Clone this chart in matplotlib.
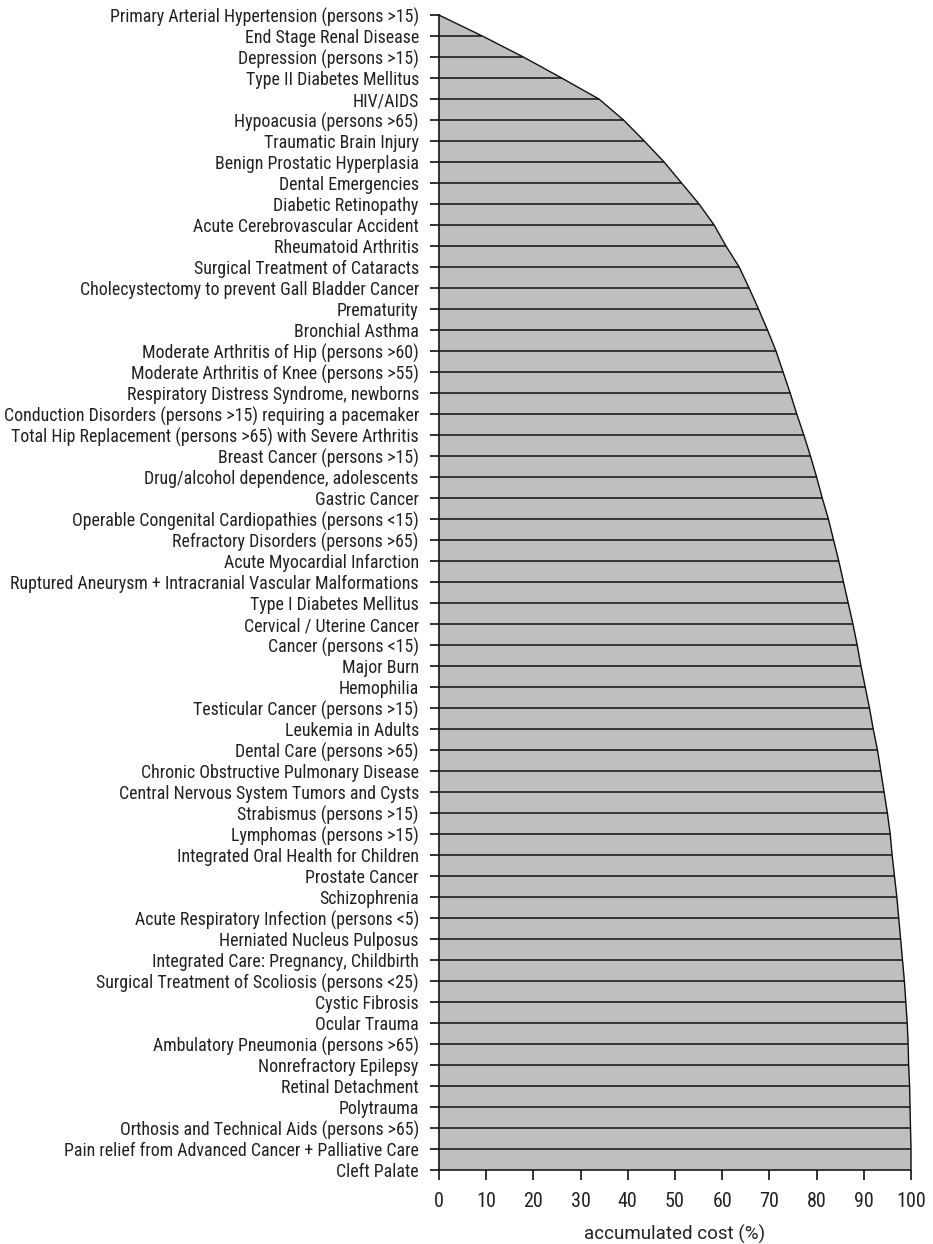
import numpy as np
import matplotlib
matplotlib.use('Agg')
import matplotlib.pyplot as plt
from matplotlib import font_manager

# conditions, ordered as in the chart (top to bottom)
conditions = [
    'Primary Arterial Hypertension (persons >15)',
    'End Stage Renal Disease',
    'Depression (persons >15)',
    'Type II Diabetes Mellitus',
    'HIV/AIDS',
    'Hypoacusia (persons >65)',
    'Traumatic Brain Injury',
    'Benign Prostatic Hyperplasia',
    'Dental Emergencies',
    'Diabetic Retinopathy',
    'Acute Cerebrovascular Accident',
    'Rheumatoid Arthritis',
    'Surgical Treatment of Cataracts',
    'Cholecystectomy to prevent Gall Bladder Cancer',
    'Prematurity',
    'Bronchial Asthma',
    'Moderate Arthritis of Hip (persons >60)',
    'Moderate Arthritis of Knee (persons >55)',
    'Respiratory Distress Syndrome, newborns',
    'Conduction Disorders (persons >15) requiring a pacemaker',
    'Total Hip Replacement (persons >65) with Severe Arthritis',
    'Breast Cancer (persons >15)',
    'Drug/alcohol dependence, adolescents',
    'Gastric Cancer',
    'Operable Congenital Cardiopathies (persons <15)',
    'Refractory Disorders (persons >65)',
    'Acute Myocardial Infarction',
    'Ruptured Aneurysm + Intracranial Vascular Malformations',
    'Type I Diabetes Mellitus',
    'Cervical / Uterine Cancer',
    'Cancer (persons <15)',
    'Major Burn',
    'Hemophilia',
    'Testicular Cancer (persons >15)',
    'Leukemia in Adults',
    'Dental Care (persons >65)',
    'Chronic Obstructive Pulmonary Disease',
    'Central Nervous System Tumors and Cysts',
    'Strabismus (persons >15)',
    'Lymphomas (persons >15)',
    'Integrated Oral Health for Children',
    'Prostate Cancer',
    'Schizophrenia',
    'Acute Respiratory Infection (persons <5)',
    'Herniated Nucleus Pulposus',
    'Integrated Care: Pregnancy, Childbirth',
    'Surgical Treatment of Scoliosis (persons <25)',
    'Cystic Fibrosis',
    'Ocular Trauma',
    'Ambulatory Pneumonia (persons >65)',
    'Nonrefractory Epilepsy',
    'Retinal Detachment',
    'Polytrauma',
    'Orthosis and Technical Aids (persons >65)',
    'Pain relief from Advanced Cancer + Palliative Care',
    'Cleft Palate',
]

# accumulated cost (%)
accumulated = [
    0.0, 9.2, 17.9, 26.0, 33.9, 39.1, 43.5, 47.7, 51.4, 55.1,
    58.3, 60.8, 63.6, 65.7, 67.7, 69.6, 71.4, 72.9, 74.4, 75.8,
    77.3, 78.7, 80.0, 81.2, 82.5, 83.6, 84.7, 85.7, 86.7, 87.7,
    88.6, 89.4, 90.3, 91.2, 92.0, 92.9, 93.6, 94.3, 95.0, 95.6,
    96.0, 96.5, 97.0, 97.4, 97.8, 98.2, 98.6, 98.9, 99.2, 99.4,
    99.5, 99.7, 99.8, 99.9, 100.0, 100.0,
]

x_ticks = [0, 10, 20, 30, 40, 50, 60, 70, 80, 90, 100]

#pick the narrowest font that is installed
installed = {f.name for f in font_manager.fontManager.ttflist}
label_font = 'Liberation Sans'
for name in ['Liberation Sans Narrow', 'Roboto Condensed', 'DejaVu Sans Condensed',
             'Roboto', 'Liberation Sans']:
    if name in installed:
        label_font = name
        break
xlabel_font = 'Roboto' if 'Roboto' in installed else 'Liberation Sans'

fig = plt.figure(figsize=(9.33, 12.44), dpi=100)
ax = fig.add_axes([0.4705, 0.0595, 0.5059, 0.9284])

y = np.arange(len(conditions))
vals = np.array(accumulated)

#filled area, row lines and the outer curve
ax.fill_betweenx(y, 0, vals, color='#bebfc1', lw=0)
ax.hlines(y, 0, vals, colors='#111111', lw=1.1, clip_on=False)
ax.plot(vals, y, color='#111111', lw=1.0, clip_on=False)

ax.set_xlim(0, 100)
ax.set_ylim(len(conditions) - 1, 0)

ax.set_yticks(y)
ylabels = ax.set_yticklabels(conditions, family=label_font, fontsize=13, color='#222222')
ax.set_xticks(x_ticks)
xlabels = ax.set_xticklabels([str(t) for t in x_ticks], family=label_font,
                             fontsize=14.5, color='#222222')

ax.tick_params(axis='y', length=6.5, width=1.2, pad=8, color='#111111')
ax.tick_params(axis='x', length=7.5, width=1.2, pad=8, color='#111111')

for side in ['top', 'right', 'bottom']:
    ax.spines[side].set_visible(False)
ax.spines['left'].set_linewidth(1.2)
ax.spines['left'].set_color('#111111')

#shrink the labels if the font is too wide for the left margin
fig.canvas.draw()
renderer = fig.canvas.get_renderer()
widest = max(t.get_window_extent(renderer).width for t in ylabels)
size = 13 * min(1.0, 415.0 / widest)
for t in ylabels:
    t.set_fontsize(size)

ax.set_xlabel('accumulated cost (%)', family=xlabel_font,
              fontsize=13.5, color='#222222', labelpad=10)

fig.savefig('out.png', dpi=100)
